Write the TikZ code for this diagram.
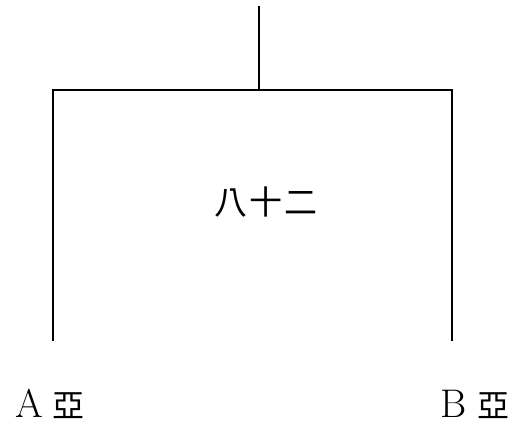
\documentclass[tikz,border=0pt]{standalone}
\usepackage{fontspec}
\newfontfamily\cjk{Noto Sans CJK TC}
\usetikzlibrary{positioning}

\begin{document}
\begin{tikzpicture}[
  x=0.5pt, y=-0.5pt,
  branch/.style={draw, line width=0.9pt, line cap=rect},
  title/.style={inner sep=0pt, font=\fontsize{16.5}{20}\selectfont\cjk},
  leaf/.style={inner sep=0pt, font=\fontsize{20}{24}\selectfont},
]
\useasboundingbox (0,0) rectangle (512,430);

% ── Stem and crossbar ──
\coordinate (top) at (259,7);
\coordinate (join) at (259,90);
\coordinate (cl) at (53,90);
\coordinate (cr) at (452,90);
\coordinate (endl) at (53,340);
\coordinate (endr) at (452,340);

\draw[branch] (top) -- (join);
\draw[branch] (endl) -- (cl) -- (cr) -- (endr);

% ── Labels ──
\node[title] (mid) at (266,202) {八\hspace{1pt}十\hspace{1pt}二};
\node[leaf] (la) at (50,404) {A\hspace{5pt}{\cjk\fontsize{16}{20}\selectfont 亞}};
\node[leaf] (lb) at (475,404) {B\hspace{5pt}{\cjk\fontsize{16}{20}\selectfont 亞}};
\end{tikzpicture}
\end{document}
